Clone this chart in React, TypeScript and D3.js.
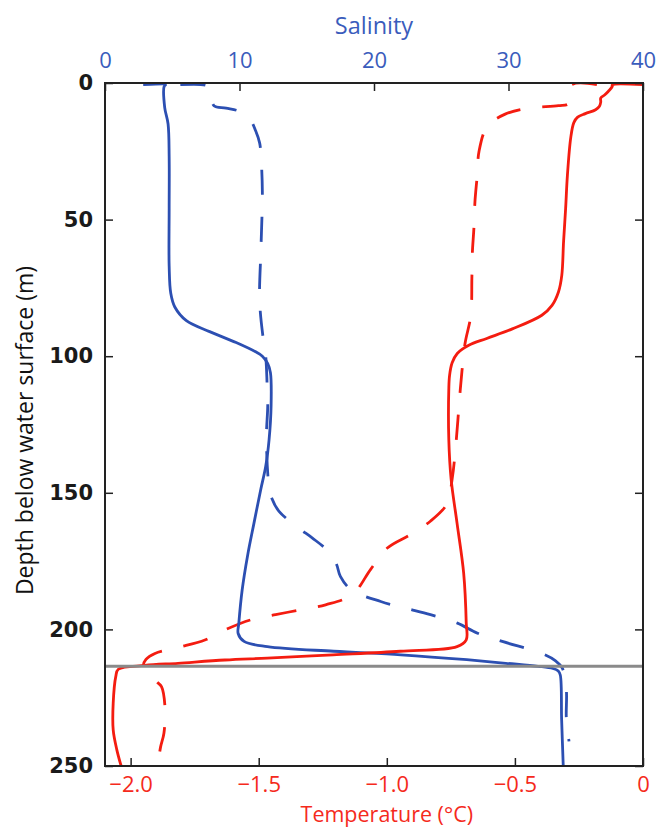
import React, { useEffect, useRef } from "react";
import * as d3 from "d3";

// axis ticks
const salinityTicks = [0, 10, 20, 30, 40];
const temperatureTicks = [-2.0, -1.5, -1.0, -0.5, 0];
const depthTicks = [0, 50, 100, 150, 200, 250];
const interfaceDepth = 213.5;

// salinity, solid profile
const salSolidDepth = [0.6, 0.7, 1.2, 9, 15, 27, 46, 67, 77, 82, 87, 91, 95, 98.4, 100, 102.7, 106, 118, 130.5, 140.3, 148.8, 161, 173, 185.5, 197.7, 201.5, 204.4, 206.3, 208, 209.3, 211.1, 212.4, 213.5, 214.3, 215.2, 216.7, 233, 250];
const salSolid = [2.84, 4.5, 4.4, 4.44, 4.69, 4.77, 4.77, 4.77, 4.89, 5.19, 6.05, 7.78, 9.75, 11.2, 11.7, 12.1, 12.3, 12.35, 12.2, 11.95, 11.58, 11.08, 10.6, 10.2, 9.95, 9.9, 10.34, 12.07, 17.0, 22.0, 26.9, 29.8, 32.2, 33.3, 33.7, 33.85, 33.95, 34.07];

// salinity, dashed profile
const salDashDepth = [0.6, 0.8, 1.8, 5, 8.3, 9.2, 10.4, 13.5, 17.5, 22, 27, 40, 60, 80, 95, 100, 110, 118, 130, 148, 152, 156.8, 162.9, 166.5, 171.4, 176, 180.6, 185.5, 189.8, 192.2, 194.6, 197.7, 201.4, 204.5, 208.8, 211.5, 214.2, 222.2, 232.5, 241];
const salDash = [5.6, 7.5, 7.8, 7.9, 8.1, 9.0, 10.0, 10.8, 11.2, 11.5, 11.6, 11.7, 11.6, 11.5, 11.8, 11.95, 12.05, 12.1, 12.0, 12.2, 12.4, 12.94, 14.4, 15.4, 16.6, 17.2, 17.5, 18.3, 20.5, 22.3, 24.2, 26.2, 27.7, 29.6, 32.47, 33.5, 34.0, 34.3, 34.3, 34.5];

// temperature, solid profile
const tempSolidDepth = [0.6, 0.7, 1.3, 3, 4.4, 5.5, 7, 8.5, 9.8, 11.2, 12.5, 14.5, 20, 33.7, 45.9, 58, 70.4, 76.5, 81.4, 85, 90, 93.5, 96, 99, 102.4, 107, 112, 130.5, 145, 161, 179.4, 197.7, 203.8, 206.3, 208, 209.3, 210.5, 211.2, 212.4, 213.2, 214.6, 217.3, 227, 236.8, 244, 250];
const tempSolid = [0, -0.12, -0.12, -0.135, -0.15, -0.165, -0.165, -0.17, -0.185, -0.225, -0.255, -0.27, -0.282, -0.295, -0.302, -0.31, -0.317, -0.33, -0.355, -0.395, -0.51, -0.61, -0.68, -0.725, -0.745, -0.755, -0.758, -0.758, -0.749, -0.726, -0.7, -0.69, -0.69, -0.726, -0.947, -1.21, -1.467, -1.632, -1.815, -1.944, -2.048, -2.058, -2.068, -2.068, -2.054, -2.037];

// temperature, dashed profile
const tempDashDepth = [0.6, 0.7, 7.5, 8.3, 9.2, 11.4, 15.9, 25, 33.7, 43.5, 53, 62, 71.6, 85, 95, 103, 112, 134, 145, 154, 160.4, 165.3, 170.2, 178, 187.3, 191, 192.8, 194.6, 196.5, 200.2, 203.9, 206.6, 208.8, 211, 213.4, 216, 219.1, 221, 228.3, 238, 243, 246.6];
const tempDash = [-0.18, -0.28, -0.29, -0.33, -0.448, -0.538, -0.608, -0.64, -0.647, -0.656, -0.66, -0.666, -0.668, -0.672, -0.694, -0.704, -0.713, -0.732, -0.745, -0.765, -0.83, -0.908, -0.998, -1.063, -1.135, -1.239, -1.336, -1.434, -1.531, -1.632, -1.71, -1.814, -1.905, -1.94, -1.95, -1.92, -1.898, -1.879, -1.866, -1.87, -1.883, -1.889];

const BLUE = "#2c4fb2";
const RED = "#f41c10";
const BLUE_TEXT = "#3a5cbc";
const RED_TEXT = "#f52a1c";
const FONT = "'Open Sans', Lato, sans-serif";

const App = () => {
  const ref = useRef<SVGSVGElement>(null);

  useEffect(() => {
    const svg = d3.select(ref.current);
    svg.selectAll("*").remove();

    const margin = { top: 83, right: 13, bottom: 64, left: 105 };
    const width = 656 - margin.left - margin.right;
    const height = 830 - margin.top - margin.bottom;

    const g = svg.append("g").attr("transform", `translate(${margin.left},${margin.top})`);

    const sal = d3.scaleLinear().domain([0, 40]).range([0, width]);
    const temp = d3.scaleLinear().domain([-2.1, 0]).range([0, width]);
    const y = d3.scaleLinear().domain([0, 250]).range([0, height]);

    svg
      .append("defs")
      .append("clipPath")
      .attr("id", "plot-clip")
      .append("rect")
      .attr("width", width)
      .attr("height", height);

    const lines = g.append("g").attr("clip-path", "url(#plot-clip)");

    const drawProfile = (vals: number[], depths: number[], x: d3.ScaleLinear<number, number>, color: string, dashed: boolean) => {
      const pts = vals.map((v, i) => [v, depths[i]] as [number, number]);
      const line = d3
        .line<[number, number]>()
        .x((d) => x(d[0]))
        .y((d) => y(d[1]))
        .curve(d3.curveCatmullRom.alpha(0.5));
      lines
        .append("path")
        .datum(pts)
        .attr("d", line)
        .attr("fill", "none")
        .attr("stroke", color)
        .attr("stroke-width", 2.8)
        .attr("stroke-linejoin", "round")
        .attr("stroke-dasharray", dashed ? "25,22" : null);
    };

    drawProfile(salDash, salDashDepth, sal, BLUE, true);
    drawProfile(tempDash, tempDashDepth, temp, RED, true);
    drawProfile(salSolid, salSolidDepth, sal, BLUE, false);
    drawProfile(tempSolid, tempSolidDepth, temp, RED, false);

    // ice / water interface
    g.append("line")
      .attr("x1", 0)
      .attr("x2", width)
      .attr("y1", y(interfaceDepth))
      .attr("y2", y(interfaceDepth))
      .attr("stroke", "#8a8a8a")
      .attr("stroke-width", 3);

    // axes
    const topAxis = g
      .append("g")
      .call(d3.axisTop(sal).tickValues(salinityTicks).tickSize(-8).tickPadding(15).tickFormat(d3.format("d")));
    topAxis.selectAll("text").attr("fill", BLUE_TEXT);

    const bottomAxis = g
      .append("g")
      .attr("transform", `translate(0,${height})`)
      .call(
        d3
          .axisBottom(temp)
          .tickValues(temperatureTicks)
          .tickSize(-8)
          .tickPadding(10)
          .tickFormat((d) => (+d === 0 ? "0" : d3.format(".1f")(+d)))
      );
    bottomAxis.selectAll("text").attr("fill", RED_TEXT);

    const leftAxis = g
      .append("g")
      .call(d3.axisLeft(y).tickValues(depthTicks).tickSize(-8).tickPadding(12).tickFormat(d3.format("d")));

    g.append("g")
      .attr("transform", `translate(${width},0)`)
      .call(d3.axisRight(y).tickValues(depthTicks).tickSize(-8).tickFormat(() => ""));

    g.selectAll(".domain").remove();
    g.selectAll(".tick line").attr("stroke", "#222").attr("stroke-width", 1.5);
    g.selectAll(".tick text").attr("font-family", FONT).attr("font-size", 22);
    leftAxis
      .selectAll("text")
      .attr("fill", "#1a1a1a")
      .attr("font-family", "'DejaVu Sans', sans-serif")
      .attr("font-weight", 700)
      .attr("font-size", 21);

    // frame
    g.append("rect")
      .attr("width", width)
      .attr("height", height)
      .attr("fill", "none")
      .attr("stroke", "#222")
      .attr("stroke-width", 2);

    // titles
    svg
      .append("text")
      .attr("x", margin.left + width / 2)
      .attr("y", 34)
      .attr("text-anchor", "middle")
      .attr("font-family", FONT)
      .attr("font-size", 23.5)
      .attr("fill", BLUE_TEXT)
      .text("Salinity");

    svg
      .append("text")
      .attr("x", margin.left + temp(-1.0))
      .attr("y", 822)
      .attr("text-anchor", "middle")
      .attr("font-family", FONT)
      .attr("font-size", 21.5)
      .attr("fill", RED_TEXT)
      .text("Temperature (°C)");

    svg
      .append("text")
      .attr("transform", `translate(33,${margin.top + height / 2 + 6}) rotate(-90)`)
      .attr("text-anchor", "middle")
      .attr("font-family", FONT)
      .attr("font-size", 23)
      .attr("fill", "#111")
      .text("Depth below water surface (m)");
  }, []);

  return <svg ref={ref} width={656} height={830} style={{ position: "absolute", left: 0, top: 0 }} />;
};

export default App;
